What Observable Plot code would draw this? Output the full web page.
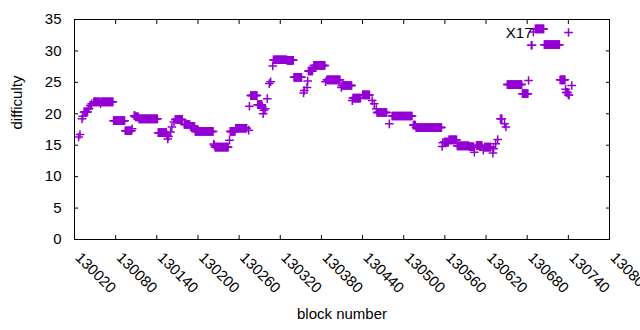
<!DOCTYPE html>
<html><head><meta charset="utf-8">
<script src="https://cdn.jsdelivr.net/npm/d3@7"></script>
<script src="https://cdn.jsdelivr.net/npm/@observablehq/plot@0.6"></script>
<style>html,body{margin:0;padding:0;background:#fff}#chart{width:640px;height:330px}</style>
</head><body><div id="chart"></div>
<script>
// Runs of consecutive blocks sharing one difficulty value
const runStart = [130026,130028,130031,130032,130034,130040,130043,130045,130048,130058,130059,130077,130094,130104,130107,130109,130114,130142,130155,130156,130157,130160,130162,130165,130167,130180,130189,130196,130223,130224,130225,130246,130247,130255,130274,130275,130277,130287,130294,130295,130296,130298,130301,130304,130306,130309,130310,130330,130340,130354,130355,130359,130360,130361,130369,130386,130388,130409,130410,130425,130426,130440,130454,130457,130460,130461,130479,130483,130514,130518,130556,130557,130559,130566,130578,130596,130603,130606,130616,130618,130630,130631,130634,130637,130641,130647,130649,130651,130673,130682,130686,130689,130692,130705,130728,130736,130737,130740,130745];
const runEnd   = [130026,130028,130031,130032,130039,130041,130043,130045,130057,130058,130076,130093,130103,130104,130108,130113,130141,130154,130155,130156,130157,130160,130162,130165,130177,130188,130195,130222,130223,130224,130244,130246,130254,130271,130274,130275,130286,130293,130294,130295,130296,130298,130301,130304,130306,130309,130329,130339,130351,130354,130355,130359,130360,130367,130385,130386,130407,130409,130424,130425,130437,130450,130454,130457,130460,130475,130479,130512,130517,130555,130556,130557,130565,130577,130595,130602,130603,130614,130616,130627,130630,130631,130634,130637,130643,130647,130649,130672,130681,130682,130687,130689,130704,130727,130735,130736,130739,130741,130745];
const runDifficulty = [16.3,16.7,19.2,19.6,20.3,20.8,21.3,21.6,21.9,21.6,21.9,18.9,17.3,17.6,19.7,19.5,19.2,17.0,16.6,16.0,16.4,17.1,17.9,18.7,19.1,18.3,18.0,17.2,15.2,15.0,14.7,15.8,17.2,17.7,17.4,21.2,22.9,21.45,21.1,20.0,20.55,20.8,22.4,24.8,25.1,27.6,28.6,28.5,25.8,23.3,23.7,24.2,25.2,26.8,27.7,25.1,25.4,24.2,24.5,22.1,22.5,23.0,22.1,21.6,20.8,20.2,18.4,19.65,18.2,17.8,14.8,15.4,15.5,15.85,14.9,14.75,13.9,14.95,14.2,14.7,13.75,14.45,15.25,15.9,19.2,18.4,17.9,24.65,23.2,25.3,30.9,33.0,33.5,31.0,25.4,23.9,23.4,23.0,24.5];

const xTicks = [130020,130080,130140,130200,130260,130320,130380,130440,130500,130560,130620,130680,130740,130800];
const yTicks = [0,5,10,15,20,25,30,35];
const seriesName = "X17";
const xTitle = "block number";
const yTitle = "difficulty";

const points = [];
runStart.forEach((s, i) => {
  for (let b = s; b <= runEnd[i]; b++) points.push({block: b, difficulty: runDifficulty[i]});
});

const purple = "#9400d3";
const chart = Plot.plot({
  width: 640, height: 330,
  marginLeft: 74, marginRight: 31, marginTop: 19, marginBottom: 91,
  style: {fontFamily: "'Liberation Sans', Arial, sans-serif", fontSize: "15px", color: "#000", background: "#fff", overflow: "visible"},
  x: {domain: [130020, 130800]},
  y: {domain: [0, 35]},
  marks: [
    Plot.axisX({anchor: "bottom", ticks: xTicks, tickSize: -4, tickFormat: () => "", label: null}),
    Plot.axisX({anchor: "top", ticks: xTicks, tickSize: -4, tickFormat: () => "", label: null}),
    Plot.axisY({anchor: "left", ticks: yTicks, tickSize: -4, tickFormat: () => "", label: null}),
    Plot.axisY({anchor: "right", ticks: yTicks, tickSize: -4, tickFormat: () => "", label: null}),
    Plot.axisY({anchor: "left", ticks: yTicks, tickSize: 0, tickPadding: 13, label: null}),
    Plot.text(xTicks, {x: d => d, frameAnchor: "bottom", dy: 19, rotate: 45, textAnchor: "start", lineAnchor: "bottom", text: d => String(d)}),
    Plot.dot(points, {x: "block", y: "difficulty", symbol: "plus", r: 2.9, stroke: purple, strokeWidth: 1.5}),
    Plot.frame({stroke: "#000", strokeWidth: 1}),
    Plot.text([xTitle], {frameAnchor: "bottom", dy: 79, text: d => d}),
    Plot.text([yTitle], {frameAnchor: "left", dx: -57, rotate: -90, text: d => d}),
    Plot.text([seriesName], {frameAnchor: "top-right", dx: -77, dy: 18, textAnchor: "end", lineAnchor: "bottom", text: d => d}),
    Plot.dot([seriesName], {frameAnchor: "top-right", dx: -41, dy: 13, symbol: "plus", r: 2.9, stroke: purple, strokeWidth: 1.5})
  ]
});
document.getElementById("chart").append(chart);
</script>
</body></html>
